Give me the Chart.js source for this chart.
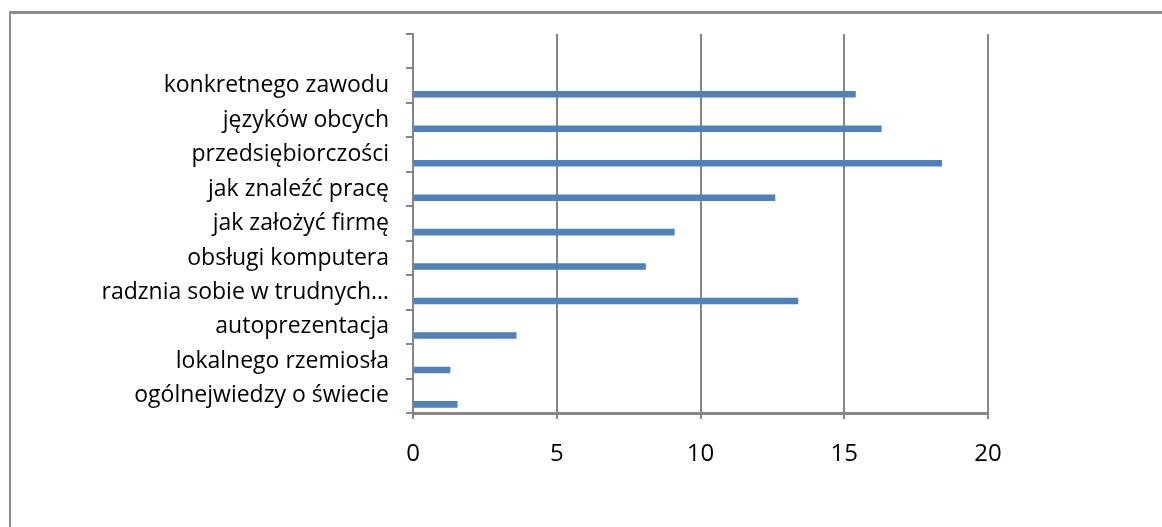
<!DOCTYPE html>
<html>
<head>
<meta charset="utf-8">
<script src="https://cdn.jsdelivr.net/npm/chart.js@4.4.1/dist/chart.umd.min.js"></script>
<style>
    html, body { margin: 0; padding: 0; background: #ffffff; overflow: hidden; }
    #frame {
        position: absolute; left: 9px; top: 11px; width: 1300px; height: 700px;
        border-left: 2px solid #8c8c8c; border-top: 3px solid #8c8c8c;
    }
    #wrap { position: absolute; left: 0; top: 0; width: 1162px; height: 527px; }
</style>
</head>
<body>
<div id="frame"></div>
<div id="wrap"><canvas id="bar-chart" width="1162" height="527"></canvas></div>
<script>
    // Dane (top slot empty, as in the original sheet)
    var categories = [
        '', 'konkretnego zawodu', 'języków obcych', 'przedsiębiorczości',
        'jak znaleźć pracę', 'jak założyć firmę', 'obsługi komputera',
        'radznia sobie w trudnych…', 'autoprezentacja', 'lokalnego rzemiosła',
        'ogólnejwiedzy o świecie'
    ];
    var values = [null, 15.4, 16.3, 18.4, 12.6, 9.1, 8.1, 13.4, 3.6, 1.3, 1.55];
    var emptySeries = [null, null, null, null, null, null, null, null, null, null, null];
    var xTicks = [0, 5, 10, 15, 20];

    var gridColor = '#868686';

    var ctx = document.getElementById('bar-chart').getContext('2d');
    var myChart = new Chart(ctx, {
        type: 'bar',
        data: {
            labels: categories,
            datasets: [{
                label: 'seria 2',
                data: emptySeries,
                backgroundColor: '#c0504d'
            }, {
                label: 'seria 1',
                data: values,
                backgroundColor: '#4f81bd'
            }]
        },
        options: {
            indexAxis: 'y',
            responsive: false,
            animation: false,
            datasets: { bar: { categoryPercentage: 1.0, barPercentage: 0.38 } },
            layout: { padding: { left: 0, top: 34, right: 174, bottom: 0 } },
            plugins: { legend: { display: false }, tooltip: { enabled: false } },
            scales: {
                x: {
                    min: xTicks[0],
                    max: xTicks[xTicks.length - 1],
                    afterBuildTicks: function (scale) {
                        scale.ticks = xTicks.map(function (v) { return { value: v }; });
                    },
                    afterFit: function (scale) { scale.height = 114; },
                    grid: { color: gridColor, lineWidth: 2, tickLength: 6 },
                    border: { color: gridColor, width: 3 },
                    ticks: { color: '#000000', font: { family: 'Open Sans', size: 24 }, padding: 21, maxRotation: 0 }
                },
                y: {
                    afterFit: function (scale) { scale.width = 413; },
                    grid: { color: gridColor, lineWidth: 2, drawOnChartArea: false, tickLength: 7 },
                    border: { color: gridColor, width: 2 },
                    ticks: { color: '#000000', font: { family: 'Open Sans', size: 23 }, padding: 17, autoSkip: false }
                }
            }
        }
    });
</script>
</body>
</html>
